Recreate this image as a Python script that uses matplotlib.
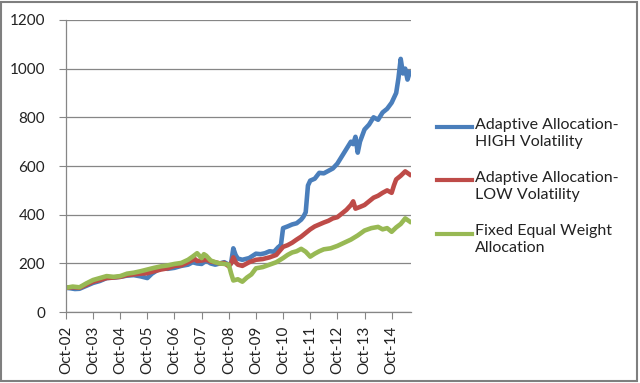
import matplotlib
matplotlib.use("Agg")
import matplotlib.pyplot as plt
from matplotlib.lines import Line2D
from matplotlib.patches import Rectangle

plt.rcParams['font.family'] = ['Lato', 'DejaVu Sans']

# months counted from Oct-2002
tick_labels = ['Oct-02', 'Oct-03', 'Oct-04', 'Oct-05', 'Oct-06', 'Oct-07', 'Oct-08',
               'Oct-09', 'Oct-10', 'Oct-11', 'Oct-12', 'Oct-13', 'Oct-14']
tick_months = [12 * i for i in range(len(tick_labels))]

high_months = [0, 2, 4, 6, 9, 12, 15, 18, 21, 24, 27, 30, 33, 36, 38, 40, 42, 45, 48, 51,
               54, 56, 58, 60, 62, 64, 66, 68, 70, 72, 73, 74, 75, 76, 78, 81, 84, 86, 88,
               90, 92, 94, 95, 96, 98, 100, 102, 104, 105, 106, 107, 108, 110, 112, 114,
               116, 118, 120, 122, 124, 126, 127, 128, 129, 130, 132, 134, 136, 138, 140,
               142, 144, 145, 146, 147, 148, 149, 150, 151, 152]
high_vals = [100, 98, 95, 96, 108, 120, 128, 140, 142, 145, 150, 152, 147, 140, 158, 170,
             180, 178, 182, 190, 195, 205, 200, 198, 212, 200, 195, 200, 205, 195, 200, 262,
             235, 220, 215, 222, 240, 238, 242, 250, 248, 268, 272, 345, 352, 360, 365, 380,
             392, 410, 520, 540, 548, 572, 570, 580, 590, 610, 640, 670, 700, 690, 720, 655,
             700, 750, 770, 800, 790, 820, 835, 860, 880, 900, 960, 1040, 980, 1000, 955, 985]

low_months = [0, 3, 6, 9, 12, 15, 18, 21, 24, 27, 30, 33, 36, 39, 42, 45, 48, 51, 54, 57,
              58, 60, 62, 64, 66, 68, 70, 72, 73, 74, 75, 76, 78, 81, 84, 87, 90, 93, 96,
              98, 100, 102, 104, 106, 108, 110, 112, 114, 116, 118, 120, 122, 124, 126, 127,
              128, 130, 132, 134, 136, 138, 140, 142, 144, 145, 146, 148, 150, 152]
low_vals = [100, 102, 100, 112, 125, 132, 140, 142, 145, 152, 155, 158, 160, 168, 175, 180,
            190, 192, 205, 218, 210, 212, 215, 208, 205, 200, 202, 188, 200, 225, 205, 195,
            190, 205, 215, 218, 225, 235, 268, 275, 285, 298, 310, 325, 340, 352, 360, 368,
            375, 385, 390, 405, 420, 440, 455, 425, 432, 440, 455, 470, 478, 490, 500, 490,
            520, 545, 560, 578, 565]

fixed_months = [0, 3, 6, 9, 12, 15, 18, 21, 24, 27, 30, 33, 36, 39, 42, 45, 48, 51, 54, 56,
                58, 60, 61, 62, 64, 66, 68, 70, 72, 73, 74, 76, 78, 80, 82, 84, 87, 90, 93,
                96, 98, 100, 102, 104, 106, 108, 110, 112, 114, 117, 120, 123, 126, 129,
                132, 135, 138, 140, 142, 144, 146, 148, 150, 152]
fixed_vals = [100, 105, 102, 118, 132, 140, 148, 145, 148, 158, 162, 168, 175, 182, 188,
              192, 198, 202, 215, 228, 242, 222, 238, 232, 212, 205, 200, 198, 195, 160, 130,
              135, 125, 142, 155, 180, 185, 195, 205, 222, 235, 245, 250, 260, 248, 228, 240,
              250, 258, 262, 272, 285, 298, 315, 335, 345, 350, 340, 345, 330, 348, 362, 385,
              372]

series_labels = ['Adaptive Allocation-\nHIGH Volatility',
                 'Adaptive Allocation-\nLOW Volatility',
                 'Fixed Equal Weight\nAllocation']
colors = ['#4A7EBB', '#BE4B48', '#98B954']

fig = plt.figure(figsize=(6.4, 3.83), dpi=100)
ax = fig.add_axes([0.103, 0.185, 0.539, 0.763])

for months, vals, c in zip([high_months, low_months, fixed_months],
                           [high_vals, low_vals, fixed_vals], colors):
    ax.plot(months, vals, color=c, lw=3.3, solid_joinstyle='round')

ax.set_xlim(0, 152.5)
ax.set_ylim(0, 1200)
ax.set_yticks(range(0, 1201, 200))
ax.set_xticks(tick_months)
ax.set_xticklabels(tick_labels, rotation=90, fontsize=11, color='#222222')
ax.tick_params(axis='y', labelsize=11, colors='#222222', length=5, color='#868686', pad=10)
ax.tick_params(axis='x', length=5, color='#868686', pad=5)
ax.grid(axis='y', color='#868686', lw=0.9)
ax.set_axisbelow(True)
for s in ['top', 'right']:
    ax.spines[s].set_visible(False)
for s in ['left', 'bottom']:
    ax.spines[s].set_color('#868686')
    ax.spines[s].set_linewidth(0.9)

# legend drawn by hand so the handle sits on the first text line
for i, (lab, c) in enumerate(zip(series_labels, colors)):
    y = 0.668 - i * 0.139
    fig.add_artist(Line2D([0.683, 0.738], [y, y], color=c, lw=3.0))
    fig.text(0.742, y + 0.025, lab, fontsize=11.5, color='#222222', va='top',
             linespacing=1.3)

fig.add_artist(Rectangle((0.002, 0.004), 0.993, 0.992, transform=fig.transFigure,
                         fill=False, edgecolor='#7f7f7f', lw=1.5))

fig.savefig('out.png', dpi=100)
